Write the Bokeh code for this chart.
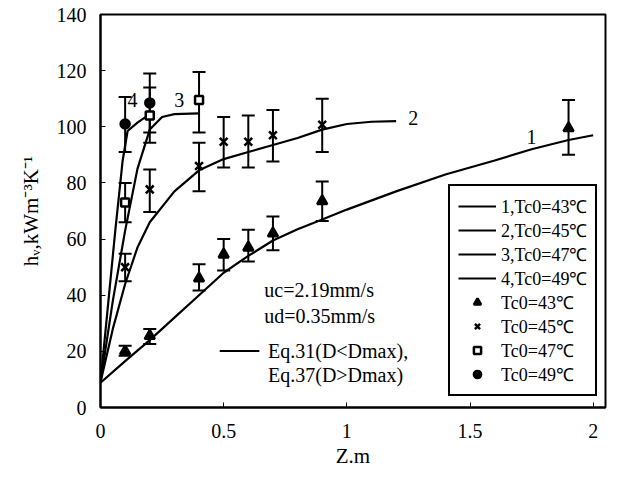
from bokeh.plotting import figure
from bokeh.models import (ColumnDataSource, Whisker, TeeHead, Legend, LegendItem,
                          FixedTicker, Label, Range1d, Title)
from bokeh.embed import file_html
from bokeh.resources import INLINE

# ---- fitted curves ----
c1_z = [0, 0.1, 0.2, 0.3, 0.4, 0.5, 0.6, 0.7, 0.8, 0.9, 1.0, 1.2, 1.4, 1.6, 1.75, 1.9, 2.0]
c1_h = [8.8, 16.5, 24, 32, 40, 48, 54, 59.5, 63.5, 67, 70.5, 77, 83, 88, 92, 95.3, 97]
c2_z = [0, 0.05, 0.1, 0.15, 0.2, 0.3, 0.4, 0.5, 0.6, 0.7, 0.8, 0.9, 1.0, 1.1, 1.2]
c2_h = [9, 28, 44, 57, 66, 77, 84.5, 88.5, 91, 93.5, 96, 99, 101, 101.8, 102]
c3_z = [0, 0.05, 0.1, 0.15, 0.2, 0.25, 0.3, 0.4]
c3_h = [9, 38, 63, 85, 99, 103.5, 104.5, 104.8]
c4_z = [0, 0.03, 0.06, 0.09, 0.11, 0.15, 0.2]
c4_h = [9, 36, 63, 88, 98.5, 101.5, 104.5]

# ---- experimental points with error bars ----
z43 = [0.1, 0.2, 0.4, 0.5, 0.6, 0.7, 0.9, 1.9]
h43 = [20, 25.5, 46, 54.5, 57, 62, 73.5, 99.5]
lo43 = [18.4, 22.6, 41.7, 48.8, 52, 56, 66.4, 90]
hi43 = [22, 28, 51, 60, 63.3, 68, 80.5, 109.5]

z45 = [0.1, 0.2, 0.4, 0.5, 0.6, 0.7, 0.9]
h45 = [50, 77.7, 86, 94.7, 94.7, 97, 100.7]
lo45 = [45, 69.6, 77, 85.5, 85.5, 87.6, 91]
hi45 = [54.8, 84.8, 94.3, 103.5, 104, 106, 110]

z47 = [0.1, 0.2, 0.4]
h47 = [73, 104, 109.5]
lo47 = [66, 94.3, 98]
hi47 = [80, 114, 119.5]

z49 = [0.1, 0.2]
h49 = [101, 108.5]
lo49 = [91, 98]
hi49 = [110.6, 119]

x_ticks = [0, 0.5, 1, 1.5, 2]
x_tick_labels = ["0", "0.5", "1", "1.5", "2"]
y_ticks = [0, 20, 40, 60, 80, 100, 120, 140]

curve_labels = ["1,Tc0=43\u2103", "2,Tc0=45\u2103", "3,Tc0=47\u2103", "4,Tc0=49\u2103"]
point_labels = ["Tc0=43\u2103", "Tc0=45\u2103", "Tc0=47\u2103", "Tc0=49\u2103"]
y_title = "h\u1d65,kWm\u207b\u00b3K\u207b\u00b9"
x_title = "Z.m"

FONT = "Liberation Serif"

p = figure(width=608, height=475, output_backend="svg", toolbar_location=None,
           x_range=Range1d(0, 2.05), y_range=Range1d(0, 140))
p.min_border_left = 100
p.min_border_right = 3
p.min_border_top = 14
p.min_border_bottom = 68
p.xgrid.visible = False
p.ygrid.visible = False
p.outline_line_color = "black"
p.outline_line_width = 2
p.outline_line_alpha = 1
p.background_fill_color = "white"
p.border_fill_color = "white"

for ax in (p.xaxis[0], p.yaxis[0]):
    ax.axis_line_width = 2
    ax.axis_line_color = "black"
    ax.major_tick_out = 0
    ax.major_tick_in = 5
    ax.minor_tick_in = 0
    ax.minor_tick_out = 0
    ax.major_tick_line_color = "black"
    ax.major_tick_line_width = 1
    ax.major_label_text_font = FONT
    ax.major_label_text_font_size = "20px"
    ax.major_label_text_color = "black"
    ax.axis_label_text_font = FONT
    ax.axis_label_text_font_size = "21px"
    ax.axis_label_text_font_style = "normal"
    ax.axis_label_text_color = "black"

p.xaxis.ticker = FixedTicker(ticks=x_ticks)
p.xaxis.major_label_overrides = {t: l for t, l in zip(x_ticks, x_tick_labels)}
p.xaxis.major_label_standoff = 16
p.xaxis.axis_label = x_title
p.xaxis.axis_label_standoff = 3
p.yaxis.ticker = FixedTicker(ticks=y_ticks)
p.yaxis.major_label_standoff = 14

# y title as a vertical title in the left panel
p.add_layout(Title(text=y_title, align="center", text_font=FONT,
                   text_font_size="21px", text_font_style="normal",
                   text_color="black", standoff=22), "left")

# curves
lines = []
for zz, hh in ((c1_z, c1_h), (c2_z, c2_h), (c3_z, c3_h), (c4_z, c4_h)):
    lines.append(p.line(zz, hh, line_color="black", line_width=2.2))

# error bars and markers
marks = []
specs = [
    (z43, h43, lo43, hi43, "triangle", 10, "black"),
    (z45, h45, lo45, hi45, "x", 11, "black"),
    (z47, h47, lo47, hi47, "square", 8, "white"),
    (z49, h49, lo49, hi49, "circle", 9, "black"),
]
for zz, hh, lo, hi, mk, sz, fc in specs:
    src = ColumnDataSource(dict(z=zz, h=hh, lo=lo, hi=hi))
    w = Whisker(base="z", lower="lo", upper="hi", source=src, dimension="height",
                line_color="black", line_width=2,
                upper_head=TeeHead(size=13, line_width=2, line_color="black"),
                lower_head=TeeHead(size=13, line_width=2, line_color="black"))
    p.add_layout(w)
    r = p.scatter("z", "h", source=src, marker=mk, size=sz, fill_color=fc,
                  line_color="black", line_width=2.5)
    marks.append(r)

# curve number labels
for txt, xx, yy in (("1", 1.75, 96.5), ("2", 1.27, 103), ("3", 0.32, 109.5), ("4", 0.13, 109.5)):
    p.add_layout(Label(x=xx, y=yy, text=txt, text_font=FONT, text_font_size="20px",
                       text_align="center", text_baseline="middle", text_color="black"))

# annotations
for txt, xx, yy in (("uc=2.19mm/s", 0.665, 41.7), ("ud=0.35mm/s", 0.665, 32.5),
                    ("Eq.31(D<Dmax),", 0.68, 20.1), ("Eq.37(D>Dmax)", 0.68, 11.7)):
    p.add_layout(Label(x=xx, y=yy, text=txt, text_font=FONT, text_font_size="20px",
                       text_align="left", text_baseline="middle", text_color="black"))
p.line([0.484, 0.645], [20.1, 20.1], line_color="black", line_width=2)

items = [LegendItem(label=l, renderers=[r]) for l, r in zip(curve_labels, lines)]
items += [LegendItem(label=l, renderers=[r]) for l, r in zip(point_labels, marks)]
legend = Legend(items=items, location=(348, 11), margin=0, padding=8,
                spacing=0, glyph_width=38, glyph_height=18, label_height=18,
                label_standoff=5, label_text_font=FONT, label_text_font_size="18px",
                label_text_color="black", border_line_color="black",
                border_line_width=2, border_line_alpha=1.0,
                background_fill_color="white", background_fill_alpha=1.0)
p.add_layout(legend)

open("out.html", "w").write(file_html(p, INLINE))
